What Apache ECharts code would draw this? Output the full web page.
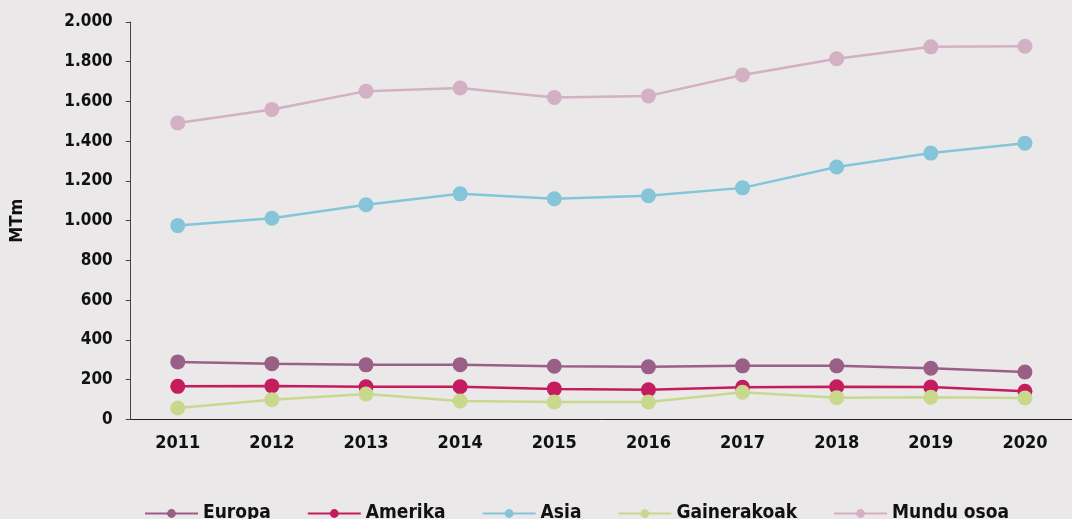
<!DOCTYPE html>
<html><head><meta charset="utf-8">
<script src="https://cdn.jsdelivr.net/npm/echarts@6/dist/echarts.min.js"></script>
<style>html,body{margin:0;padding:0;background:#eae8e9;}#c{width:1072px;height:519px;}</style>
</head><body><div id="c"></div>
<script>
const years = ['2011','2012','2013','2014','2015','2016','2017','2018','2019','2020'];
const europa = [289, 280, 274, 275, 267, 264, 269, 269, 257, 238];
const amerika = [166, 168, 164, 164, 153, 149, 161, 164, 162, 141];
const asia = [975, 1012, 1080, 1135, 1110, 1125, 1165, 1270, 1340, 1390];
const gainerakoak = [57, 99, 127, 92, 87, 87, 136, 109, 111, 107];
const mundu = [1492, 1560, 1652, 1668, 1620, 1628, 1733, 1815, 1875, 1878];
const seriesNames = ['Europa','Amerika','Asia','Gainerakoak','Mundu osoa'];
const colors = ['#9a5f86','#c41c5d','#84c5d9','#c8d98e','#d3b0c4'];
const FONT = '"DejaVu Sans Condensed","Liberation Sans Narrow","DejaVu Sans",sans-serif';
const chart = echarts.init(document.getElementById('c'));
const fmt = v => v >= 1000 ? Math.floor(v/1000) + '.' + String(v%1000).padStart(3,'0') : String(v);
const data = [europa, amerika, asia, gainerakoak, mundu];
chart.setOption({
  backgroundColor: '#eae8e9',
  color: colors,
  animation: false,
  grid: {left: 130.7, top: 22, width: 947, bottom: 99.7, containLabel: false},
  legend: {
    data: seriesNames,
    left: 144, top: 504, padding: 0,
    itemWidth: 53, itemHeight: 11, itemGap: 36,
    textStyle: {fontFamily: FONT, fontWeight: 'bold', fontSize: 19, color: '#111'}
  },
  xAxis: {
    type: 'category', data: years, boundaryGap: true,
    axisLine: {lineStyle: {color: '#222', width: 1}},
    axisTick: {length: 6, lineStyle: {color: '#222'}},
    axisLabel: {fontFamily: FONT, fontWeight: 'bold', fontSize: 18, color: '#111', margin: 15}
  },
  yAxis: {
    type: 'value', min: 0, max: 2000, interval: 200,
    name: 'MTm', nameLocation: 'middle', nameGap: 104, nameRotate: 90,
    nameTextStyle: {fontFamily: FONT, fontWeight: 'bold', fontSize: 18, color: '#111'},
    splitLine: {show: false},
    axisLine: {show: true, lineStyle: {color: '#444', width: 1}},
    axisTick: {show: true, length: 5, lineStyle: {color: '#444'}},
    axisLabel: {fontFamily: FONT, fontWeight: 'bold', fontSize: 17, color: '#111', margin: 18, formatter: fmt}
  },
  series: seriesNames.map((n, i) => ({
    name: n, type: 'line', data: data[i],
    symbol: 'circle', symbolSize: 15,
    lineStyle: {width: 2.5},
    z: 2 + i
  }))
});
</script></body></html>
